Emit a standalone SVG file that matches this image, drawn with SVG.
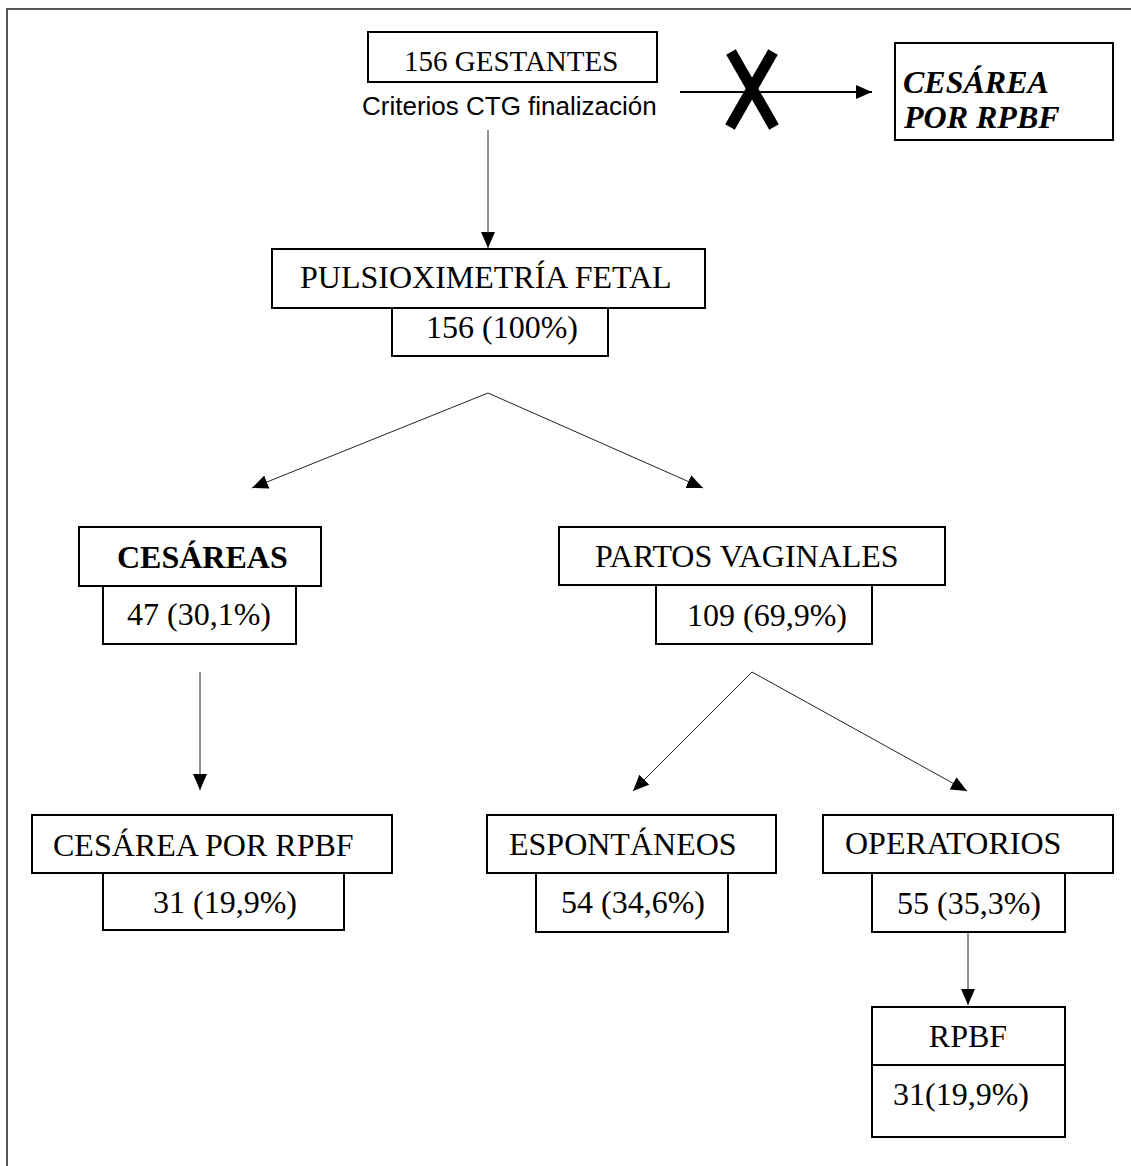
<svg xmlns="http://www.w3.org/2000/svg" width="1131" height="1166" viewBox="0 0 1131 1166">
<style>
.box{fill:#fff;stroke:#000;stroke-width:2}
.t{font-family:"Liberation Serif","Times New Roman",serif;font-size:32px;fill:#000}
.a{font-family:"Liberation Sans",Arial,sans-serif;font-size:26px;fill:#000}
.c{fill:none;stroke:#222;stroke-width:1}
.frame{fill:none;stroke:#555;stroke-width:2}
</style>
<defs>
<marker id="ah" markerUnits="userSpaceOnUse" markerWidth="16" markerHeight="14" refX="16" refY="7" orient="auto">
<path d="M0,0 L16,7 L0,14 z" fill="#000"/>
</marker>
</defs>
<rect width="1131" height="1166" fill="#fff"/>
<path class="frame" d="M7,1166 V9 H1131"/>

<g id="connectors">
<line class="c" x1="488" y1="130" x2="488" y2="248" marker-end="url(#ah)"/>
<line class="c" x1="680" y1="92" x2="872" y2="92" stroke-width="2" style="stroke:#000;stroke-width:2" marker-end="url(#ah)"/>
<line x1="731" y1="52" x2="774" y2="127" stroke="#000" stroke-width="11"/>
<line x1="773" y1="52" x2="730" y2="127" stroke="#000" stroke-width="11"/>
<line class="c" x1="488" y1="393" x2="252" y2="488" marker-end="url(#ah)"/>
<line class="c" x1="488" y1="393" x2="703" y2="488" marker-end="url(#ah)"/>
<line class="c" x1="200" y1="672" x2="200" y2="790" marker-end="url(#ah)"/>
<line class="c" x1="752" y1="672" x2="633" y2="791" marker-end="url(#ah)"/>
<line class="c" x1="752" y1="672" x2="967" y2="791" marker-end="url(#ah)"/>
<line class="c" x1="968" y1="932" x2="968" y2="1005" marker-end="url(#ah)"/>
</g>

<g id="gestantes">
<rect class="box" x="368" y="32" width="289" height="50"/>
<text class="t" x="404" y="71" style="font-size:29px">156 GESTANTES</text>
<text class="a" x="362" y="115">Criterios CTG finalización</text>
</g>

<g id="cesarea-top">
<rect class="box" x="895" y="43" width="218" height="97"/>
<text class="t" x="903" y="93" font-weight="bold" font-style="italic">CESÁREA</text>
<text class="t" x="904" y="128" font-weight="bold" font-style="italic">POR RPBF</text>
</g>

<g id="pulsioximetria">
<rect class="box" x="272" y="249" width="433" height="59"/>
<text class="t" x="300" y="288">PULSIOXIMETRÍA FETAL</text>
<rect class="box" x="392" y="308" width="216" height="48"/>
<text class="t" x="426" y="338">156 (100%)</text>
</g>

<g id="cesareas">
<rect class="box" x="79" y="527" width="242" height="59"/>
<text class="t" x="117" y="568" font-weight="bold">CESÁREAS</text>
<rect class="box" x="103" y="586" width="193" height="58"/>
<text class="t" x="127" y="625">47 (30,1%)</text>
</g>

<g id="partos-vaginales">
<rect class="box" x="559" y="527" width="386" height="58"/>
<text class="t" x="595" y="567">PARTOS VAGINALES</text>
<rect class="box" x="656" y="585" width="216" height="59"/>
<text class="t" x="687" y="626">109 (69,9%)</text>
</g>

<g id="cesarea-rpbf">
<rect class="box" x="32" y="815" width="360" height="58"/>
<text class="t" x="53" y="856">CESÁREA POR RPBF</text>
<rect class="box" x="103" y="873" width="241" height="57"/>
<text class="t" x="153" y="913">31 (19,9%)</text>
</g>

<g id="espontaneos">
<rect class="box" x="487" y="815" width="289" height="58"/>
<text class="t" x="509" y="855">ESPONTÁNEOS</text>
<rect class="box" x="536" y="873" width="192" height="59"/>
<text class="t" x="561" y="913">54 (34,6%)</text>
</g>

<g id="operatorios">
<rect class="box" x="823" y="815" width="290" height="58"/>
<text class="t" x="845" y="854">OPERATORIOS</text>
<rect class="box" x="872" y="873" width="193" height="59"/>
<text class="t" x="897" y="914">55 (35,3%)</text>
</g>

<g id="rpbf">
<rect class="box" x="872" y="1007" width="193" height="130"/>
<line x1="872" y1="1065" x2="1065" y2="1065" stroke="#000" stroke-width="2"/>
<text class="t" x="968" y="1047" text-anchor="middle">RPBF</text>
<text class="t" x="893" y="1105">31(19,9%)</text>
</g>
</svg>
